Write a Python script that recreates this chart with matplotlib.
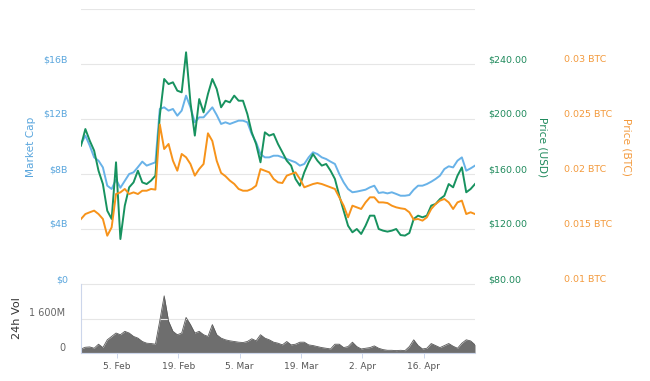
import matplotlib
matplotlib.use("Agg")
import matplotlib.pyplot as plt
import pandas as pd

# daily samples, 27 Jan 2018 18:00 -> 27 Apr 2018
dates = pd.date_range("2018-01-27 18:00", periods=91, freq="D")

market_cap_b = [
    10.18, 10.79, 10.06, 9.21, 8.97, 8.48, 7.15, 6.91, 7.60, 7.00,
    7.50, 8.00, 8.12, 8.50, 8.90, 8.61, 8.73, 8.85, 12.73, 12.85,
    12.61, 12.73, 12.24, 12.61, 13.70, 12.85, 11.76, 12.12, 12.12, 12.48,
    12.85, 12.29, 11.64, 11.76, 11.64, 11.76, 11.88, 11.88, 11.76, 10.91,
    10.30, 9.45, 9.21, 9.21, 9.33, 9.33, 9.21, 9.09, 8.97, 8.85,
    8.61, 8.73, 9.21, 9.58, 9.45, 9.21, 9.09, 8.90, 8.73, 8.00,
    7.39, 6.91, 6.67, 6.72, 6.79, 6.86, 7.03, 7.15, 6.62, 6.67,
    6.59, 6.67, 6.55, 6.42, 6.42, 6.47, 6.86, 7.15, 7.15, 7.27,
    7.44, 7.64, 7.88, 8.36, 8.56, 8.48, 8.97, 9.21, 8.24, 8.41,
    8.61,
]

price_usd = [
    180.6, 192.7, 184.2, 177.0, 162.4, 152.7, 133.3, 127.3, 168.5, 112.7,
    136.9, 150.3, 153.9, 162.4, 153.9, 152.7, 155.2, 158.8, 202.4, 229.1,
    225.4, 226.7, 220.6, 219.4, 248.5, 212.1, 187.9, 214.5, 204.8, 218.2,
    229.1, 221.8, 208.5, 213.3, 212.1, 217.0, 213.3, 213.3, 203.6, 190.3,
    181.8, 168.5, 190.3, 187.9, 189.1, 181.8, 175.8, 169.7, 166.1, 156.4,
    151.5, 161.2, 168.5, 174.5, 169.7, 166.1, 167.3, 162.4, 156.4, 144.2,
    133.3, 122.4, 117.6, 120.0, 116.4, 122.4, 129.7, 129.7, 120.0, 118.8,
    118.1, 118.8, 120.0, 115.6, 115.2, 117.1, 127.3, 129.7, 128.5, 129.7,
    137.0, 138.2, 141.8, 144.2, 152.7, 150.3, 158.8, 164.8, 146.7, 149.1,
    152.7,
]

price_btc = [
    0.01591, 0.01636, 0.01652, 0.01667, 0.01636, 0.01591, 0.01439, 0.01515, 0.01818, 0.01833,
    0.01864, 0.01818, 0.01833, 0.01818, 0.01848, 0.01848, 0.01864, 0.01858, 0.02450, 0.02227,
    0.02273, 0.02121, 0.02030, 0.02182, 0.02152, 0.02091, 0.01985, 0.02045, 0.02091, 0.02370,
    0.02300, 0.02120, 0.02010, 0.01980, 0.01940, 0.01910, 0.01864, 0.01848, 0.01848, 0.01864,
    0.01894, 0.02045, 0.02030, 0.02015, 0.01955, 0.01924, 0.01918, 0.01985, 0.02000, 0.02015,
    0.01955, 0.01879, 0.01894, 0.01909, 0.01918, 0.01909, 0.01894, 0.01879, 0.01864, 0.01788,
    0.01712, 0.01606, 0.01712, 0.01697, 0.01682, 0.01742, 0.01788, 0.01788, 0.01742, 0.01742,
    0.01736, 0.01712, 0.01697, 0.01688, 0.01682, 0.01652, 0.01585, 0.01591, 0.01576, 0.01606,
    0.01682, 0.01727, 0.01758, 0.01773, 0.01742, 0.01682, 0.01742, 0.01758, 0.01636, 0.01652,
    0.01636,
]

volume_m = [
    188, 267, 282, 220, 408, 251, 612, 769, 926, 847,
    1004, 926, 769, 690, 534, 455, 439, 408, 1500, 2650,
    1475, 1004, 847, 926, 1650, 1318, 926, 1004, 847, 769,
    1318, 847, 690, 612, 565, 534, 502, 486, 534, 659,
    565, 847, 690, 612, 502, 455, 377, 533, 377, 408,
    502, 502, 377, 345, 298, 251, 220, 188, 408, 408,
    251, 298, 502, 298, 188, 220, 251, 329, 220, 157,
    126, 126, 110, 126, 110, 298, 612, 345, 188, 220,
    439, 345, 251, 345, 439, 314, 220, 455, 612, 560,
    380,
]

cap_ticks = [0, 4, 8, 12, 16, 20]
cap_labels = ["$0", "$4B", "$8B", "$12B", "$16B", ""]
usd_ticks = [80, 120, 160, 200, 240, 280]
usd_labels = ["$80.00", "$120.00", "$160.00", "$200.00", "$240.00", ""]
btc_ticks = [0.01, 0.015, 0.02, 0.025, 0.03, 0.035]
btc_labels = ["0.01 BTC", "0.015 BTC", "0.02 BTC", "0.025 BTC", "0.03 BTC", ""]
vol_ticks = [0, 1600, 3200]
vol_labels = ["0", "1 600M", ""]
date_ticks = pd.to_datetime(["2018-02-05", "2018-02-19", "2018-03-05",
                             "2018-03-19", "2018-04-02", "2018-04-16"])
date_labels = ["5. Feb", "19. Feb", "5. Mar", "19. Mar", "2. Apr", "16. Apr"]

BLUE, BLUE_TXT = "#68b2e8", "#5aa6dd"
GREEN, GREEN_TXT = "#17925f", "#1f8a5c"
ORANGE, ORANGE_TXT = "#f7931a", "#f39a3d"
GRID = "#e6e6e6"
AXIS = "#ccd6eb"

W, H = 650, 381
fig = plt.figure(figsize=(W / 100, H / 100), dpi=100, facecolor="white")
ax = fig.add_axes([81 / W, 1 - 284 / H, 394 / W, 275 / H])
ax_usd = ax.twinx()
ax_btc = ax.twinx()
axv = fig.add_axes([81 / W, 1 - 353 / H, 394 / W, 69 / H])

xlim = (dates[0], dates[-1])

ax.plot(dates, market_cap_b, color=BLUE, lw=1.4)
ax_usd.plot(dates, price_usd, color=GREEN, lw=1.4)
ax_btc.plot(dates, price_btc, color=ORANGE, lw=1.4)

for a in (ax, ax_usd, ax_btc):
    a.set_xlim(*xlim)
    for s in a.spines.values():
        s.set_visible(False)
    a.tick_params(axis="x", bottom=False, labelbottom=False)

ax.set_ylim(0, 20)
ax.set_yticks(cap_ticks)
ax.set_yticklabels(cap_labels)
ax.grid(axis="y", color=GRID, lw=0.8)
ax.tick_params(axis="y", length=0, pad=9.4, labelsize=6.8, labelcolor=BLUE_TXT)

ax_usd.set_ylim(80, 280)
ax_usd.set_yticks(usd_ticks)
ax_usd.set_yticklabels(usd_labels)
ax_usd.tick_params(axis="y", length=0, pad=9.4, labelsize=6.8, labelcolor=GREEN_TXT)

ax_btc.set_ylim(0.01, 0.035)
ax_btc.set_yticks(btc_ticks)
ax_btc.set_yticklabels(btc_labels)
ax_btc.tick_params(axis="y", length=0, pad=64, labelsize=6.8, labelcolor=ORANGE_TXT)

# volume panel
axv.fill_between(dates, volume_m, color="#6e6e6e", lw=0)
axv.plot(dates, volume_m, color="#595959", lw=0.6)
axv.set_xlim(*xlim)
axv.set_ylim(0, 3200)
axv.set_yticks(vol_ticks)
axv.set_yticklabels(vol_labels)
axv.grid(axis="y", color=GRID, lw=0.8)
axv.tick_params(axis="y", length=0, pad=11.5, labelsize=7, labelcolor="#666666")
axv.set_xticks(date_ticks)
axv.set_xticklabels(date_labels)
axv.tick_params(axis="x", length=3.6, width=0.7, color=AXIS, pad=3,
                labelsize=6.5, labelcolor="#555555")
for side in ("top", "right"):
    axv.spines[side].set_visible(False)
for side in ("left", "bottom"):
    axv.spines[side].set_color(AXIS)
    axv.spines[side].set_linewidth(0.8)

for a in (ax, ax_usd, ax_btc, axv):
    for lbl in a.get_yticklabels():
        lbl.set_va("bottom")

fig.text(31 / W, 1 - 147 / H, "Market Cap", rotation=90, ha="center", va="center",
         fontsize=7.6, color=BLUE_TXT)
fig.text(542 / W, 1 - 147 / H, "Price (USD)", rotation=270, ha="center", va="center",
         fontsize=7.6, color=GREEN_TXT)
fig.text(627 / W, 1 - 147 / H, "Price (BTC)", rotation=270, ha="center", va="center",
         fontsize=7.6, color=ORANGE_TXT)
fig.text(17 / W, 1 - 318 / H, "24h Vol", rotation=90, ha="center", va="center",
         fontsize=8.1, color="#333333")

fig.savefig("out.png", dpi=100, facecolor="white")
